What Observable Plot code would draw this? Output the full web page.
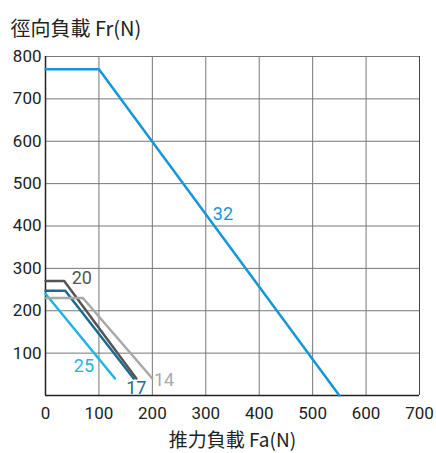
<!DOCTYPE html>
<html><head><meta charset="utf-8">
<script src="https://cdn.jsdelivr.net/npm/d3@7"></script>
<script src="https://cdn.jsdelivr.net/npm/@observablehq/plot@0.6"></script>
<style>body{margin:0;background:#fff}</style>
</head><body><div id="chart"></div>
<script>
const seriesNames = ["32", "25", "17", "20", "14"];
const seriesColors = ["#1496d8", "#1eb4e6", "#1a6a92", "#555555", "#a8a8a8"];
const fa32 = [0, 100, 550], fr32 = [770, 770, 0];
const fa25 = [0, 130], fr25 = [240, 40];
const fa17 = [0, 37, 165], fr17 = [247, 247, 40];
const fa20 = [0, 35, 170], fr20 = [270, 270, 40];
const fa14 = [0, 70, 200], fr14 = [230, 230, 40];
const labelFa = [332, 72, 170, 68, 222];
const labelFr = [427, 70, 16, 277, 37];
const xTicks = [0, 100, 200, 300, 400, 500, 600, 700];
const yTicks = [100, 200, 300, 400, 500, 600, 700, 800];
const yTitle = "徑向負載 Fr(N)";
const xTitle = "推力負載 Fa(N)";

const faList = [fa32, fa25, fa17, fa20, fa14];
const frList = [fr32, fr25, fr17, fr20, fr14];
const lines = [];
seriesNames.forEach((s, i) => faList[i].forEach((fa, j) => lines.push({s, fa, fr: frList[i][j]})));
const labels = seriesNames.map((s, i) => ({s, fa: labelFa[i], fr: labelFr[i]}));

const chart = Plot.plot({
  width: 436, height: 453,
  marginLeft: 45, marginRight: 17, marginTop: 56, marginBottom: 58,
  style: {fontFamily: "Roboto, 'Noto Sans CJK TC', sans-serif", fontSize: "17px", color: "#222"},
  x: {domain: [0, 700], ticks: xTicks, label: null, tickSize: 0, tickPadding: 11},
  y: {domain: [0, 800], ticks: yTicks, label: null, tickSize: 0, tickPadding: 4},
  color: {domain: seriesNames, range: seriesColors},
  marks: [
    Plot.gridX(xTicks, {stroke: "#777", strokeOpacity: 1}),
    Plot.gridY(yTicks, {stroke: "#777", strokeOpacity: 1}),
    Plot.ruleX([700], {stroke: "#444"}),
    Plot.ruleX([0], {stroke: "#222", strokeWidth: 1.5}),
    Plot.ruleY([0], {stroke: "#222", strokeWidth: 1.5}),
    Plot.line(lines, {x: "fa", y: "fr", z: "s", stroke: "s", strokeWidth: 2.5}),
    Plot.text(labels, {x: "fa", y: "fr", text: "s", fill: "s", fontSize: 18}),
    Plot.text([yTitle], {frameAnchor: "top-left", dx: -35, dy: -35, textAnchor: "start", fontSize: 20, fill: "#222", fontFamily: "'Noto Sans CJK TC', sans-serif"}),
    Plot.text([xTitle], {frameAnchor: "bottom", dy: 51, fontSize: 19, fill: "#222", fontFamily: "'Noto Sans CJK TC', sans-serif"})
  ]
});
document.getElementById("chart").append(chart);
</script></body></html>
